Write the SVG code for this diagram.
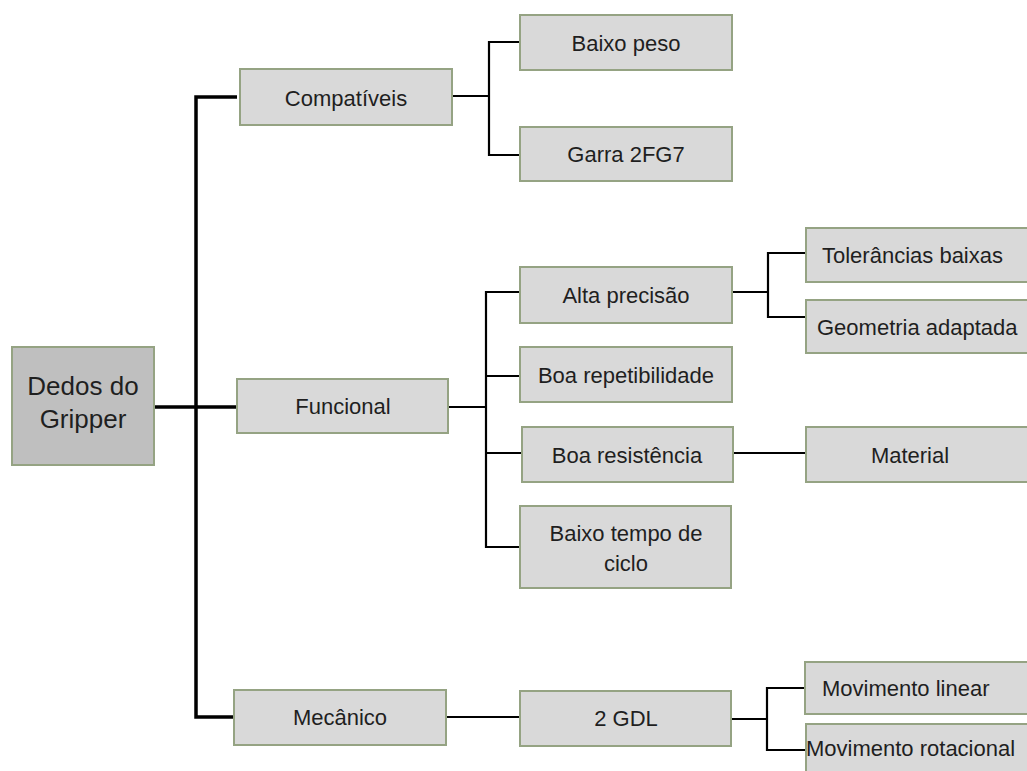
<svg xmlns="http://www.w3.org/2000/svg" width="1027" height="771" viewBox="0 0 1027 771">
  <style>
    .box { fill: #d9d9d9; stroke: #95a383; stroke-width: 2; }
    .root { fill: #bfbfbf; stroke: #95a383; stroke-width: 2; }
    .lbl { font-family: "Liberation Sans", Arial, sans-serif; font-size: 22px; fill: #1f1f1f; }
    .big { font-size: 26px; }
    .mid { text-anchor: middle; }
    .trunk { fill: none; stroke: #000; stroke-width: 3.5; }
    .wire { fill: none; stroke: #000; stroke-width: 2.2; }
  </style>
  <rect width="1027" height="771" fill="#ffffff"/>

  <!-- connectors -->
  <g id="connectors">
    <path class="trunk" d="M154,407 H237 M237,97 H196 V717 H234"/>
    <path class="wire" d="M452,96 H489 M520,42 H489 V155 H520"/>
    <path class="wire" d="M448,407 H486 M520,292 H486 V547 H520 M486,376 H520 M486,453 H522"/>
    <path class="wire" d="M732,292 H768 M806,253 H768 V317 H806"/>
    <path class="wire" d="M733,453 H806"/>
    <path class="wire" d="M446,717 H520"/>
    <path class="wire" d="M731,719 H767 M805,688 H767 V750 H806"/>
  </g>

  <!-- nodes -->
  <g id="root">
    <rect class="root" x="12" y="347" width="142" height="118"/>
    <text class="lbl big mid" x="83" y="395">Dedos do</text>
    <text class="lbl big mid" x="83" y="428">Gripper</text>
  </g>
  <g id="compativeis">
    <rect class="box" x="240" y="69" width="212" height="56"/>
    <text class="lbl mid" x="346" y="106">Compatíveis</text>
  </g>
  <g id="baixo-peso">
    <rect class="box" x="520" y="15" width="212" height="55"/>
    <text class="lbl mid" x="626" y="51">Baixo peso</text>
  </g>
  <g id="garra">
    <rect class="box" x="520" y="127" width="212" height="54"/>
    <text class="lbl mid" x="626" y="162">Garra 2FG7</text>
  </g>
  <g id="funcional">
    <rect class="box" x="237" y="379" width="211" height="54"/>
    <text class="lbl mid" x="343" y="414">Funcional</text>
  </g>
  <g id="alta-precisao">
    <rect class="box" x="520" y="267" width="212" height="56"/>
    <text class="lbl mid" x="626" y="303">Alta precisão</text>
  </g>
  <g id="boa-repetibilidade">
    <rect class="box" x="520" y="347" width="212" height="55"/>
    <text class="lbl mid" x="626" y="383">Boa repetibilidade</text>
  </g>
  <g id="boa-resistencia">
    <rect class="box" x="522" y="427" width="211" height="55"/>
    <text class="lbl mid" x="627" y="463">Boa resistência</text>
  </g>
  <g id="baixo-tempo">
    <rect class="box" x="520" y="506" width="211" height="82"/>
    <text class="lbl mid" x="626" y="541">Baixo tempo de</text>
    <text class="lbl mid" x="626" y="571">ciclo</text>
  </g>
  <g id="tolerancias">
    <rect class="box" x="806" y="228" width="240" height="54"/>
    <text class="lbl" x="822" y="263">Tolerâncias baixas</text>
  </g>
  <g id="geometria">
    <rect class="box" x="806" y="300" width="240" height="53"/>
    <text class="lbl" x="817" y="335">Geometria adaptada</text>
  </g>
  <g id="material">
    <rect class="box" x="806" y="427" width="240" height="55"/>
    <text class="lbl mid" x="910" y="463">Material</text>
  </g>
  <g id="mecanico">
    <rect class="box" x="234" y="690" width="212" height="55"/>
    <text class="lbl mid" x="340" y="725">Mecânico</text>
  </g>
  <g id="gdl">
    <rect class="box" x="520" y="691" width="211" height="55"/>
    <text class="lbl mid" x="626" y="726">2 GDL</text>
  </g>
  <g id="mov-linear">
    <rect class="box" x="805" y="662" width="240" height="52"/>
    <text class="lbl" x="822" y="696">Movimento linear</text>
  </g>
  <g id="mov-rotacional">
    <rect class="box" x="806" y="724" width="240" height="60"/>
    <text class="lbl" x="806" y="756">Movimento rotacional</text>
  </g>
</svg>
